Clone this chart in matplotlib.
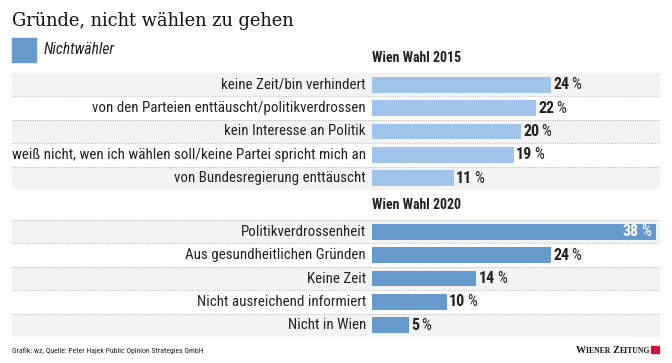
import matplotlib.pyplot as plt
from matplotlib.patches import Rectangle

# === Data ===
title = "Gründe, nicht wählen zu gehen"
legend_label = "Nichtwähler"
section_2015 = "Wien Wahl 2015"
labels_2015 = [
    "keine Zeit/bin verhindert",
    "von den Parteien enttäuscht/politikverdrossen",
    "kein Interesse an Politik",
    "weiß nicht, wen ich wählen soll/keine Partei spricht mich an",
    "von Bundesregierung enttäuscht",
]
values_2015 = [24, 22, 20, 19, 11]
section_2020 = "Wien Wahl 2020"
labels_2020 = [
    "Politikverdrossenheit",
    "Aus gesundheitlichen Gründen",
    "Keine Zeit",
    "Nicht ausreichend informiert",
    "Nicht in Wien",
]
values_2020 = [38, 24, 14, 10, 5]
source = "Grafik: wz, Quelle: Peter Hajek Public Opinion Strategies GmbH"

# === Style ===
W, H = 672, 363
COND = ['Roboto Condensed', 'Liberation Sans Narrow', 'Roboto', 'DejaVu Sans']
col_2015 = '#9fc6ea'
col_2020 = '#6699cc'
band = '#f3f3f3'
txt = '#222222'

fig = plt.figure(figsize=(W / 100, H / 100), dpi=100)
fig.patch.set_facecolor('white')
renderer = fig.canvas.get_renderer()


def fx(px):
    return px / W


def fy(py):
    return 1 - py / H


def width_pt(t):
    # width of a text artist in points (dpi 100)
    return t.get_window_extent(renderer=renderer).width * 72 / 100


# === Header ===
fig.text(fx(12), fy(21), title, family='DejaVu Serif', fontsize=12.9,
         color='#111111', va='center', ha='left')
fig.patches.append(Rectangle((fx(12), fy(62)), fx(24), fy(38) - fy(62),
                             transform=fig.transFigure, color=col_2020))
fig.text(fx(44), fy(50), legend_label, family=COND, style='italic',
         fontsize=11.2, color=txt, va='center')

# === Bars ===
ax = fig.add_axes([fx(12), fy(337), fx(648), fy(73) - fy(337)])
gap = 6.29
ax.set_xlim(-48.26, 38.6)
ax.set_ylim(gap + 4.5, -0.5)
ax.axis('off')

sections = [
    (section_2015, labels_2015, values_2015, 0, col_2015),
    (section_2020, labels_2020, values_2020, gap, col_2020),
]

LAB = 10.8
NUM = 11.5
PCT = 11.2

for name, labels, values, off, color in sections:
    ys = [off + i for i in range(len(labels))]
    for i, y in enumerate(ys):
        if i % 2 == 0:
            ax.axhspan(y - 0.5, y + 0.5, color=band, zorder=0, lw=0)
        if i < len(ys) - 1:
            ax.axhline(y + 0.5, color='#c4c4c4', lw=0.8, ls=(0, (1, 1)), zorder=1)
    if off > 0:
        ax.axhline(off - 0.5, color='#c4c4c4', lw=0.8, ls=(0, (1, 1)), zorder=1)
    ax.barh(ys, values, height=0.67, color=color, zorder=2)
    ax.annotate(name, (0, off - 0.5), xytext=(0, 6), textcoords='offset points',
                ha='left', va='bottom', family=COND, fontsize=10,
                fontweight='bold', color=txt)
    for lab, v, y in zip(labels, values, ys):
        ax.annotate(lab, (0, y), xytext=(-4.5, 0), textcoords='offset points',
                    ha='right', va='center', family=COND, fontsize=LAB, color=txt)
        if v >= 30:
            p = ax.annotate('%', (v, y), xytext=(-3.5, 0), textcoords='offset points',
                            ha='right', va='center', family=COND, fontsize=PCT,
                            color='white', zorder=3)
            ax.annotate(str(v), (v, y), xytext=(-3.5 - width_pt(p) - 1.5, 0),
                        textcoords='offset points', ha='right', va='center',
                        family=COND, fontsize=NUM, fontweight='bold',
                        color='white', zorder=3)
        else:
            n = ax.annotate(str(v), (v, y), xytext=(1.5, 0), textcoords='offset points',
                            ha='left', va='center', family=COND, fontsize=NUM,
                            fontweight='bold', color=txt, zorder=3)
            ax.annotate('%', (v, y), xytext=(1.5 + width_pt(n) + 1.5, 0),
                        textcoords='offset points', ha='left', va='center',
                        family=COND, fontsize=PCT, color=txt, zorder=3)

# === Footer ===
fig.text(fx(12), fy(351), source, family=COND, fontsize=5.6, color=txt, va='center')

# small-caps logo, drawn right to left
fig.patches.append(Rectangle((fx(651), fy(353)), fx(8), fy(346) - fy(353),
                             transform=fig.transFigure, color='#d2103c'))
x_right = 650
for piece, size in [("EITUNG", 5.6), ("Z", 7.4), ("IENER ", 5.6), ("W", 7.4)]:
    t = fig.text(fx(x_right), fy(353), piece, family='Liberation Serif', fontsize=size,
                 fontweight='bold', color='#1a1a1a', ha='right', va='baseline')
    x_right -= t.get_window_extent(renderer=renderer).width

fig.savefig('out.png', dpi=100, facecolor='white')
